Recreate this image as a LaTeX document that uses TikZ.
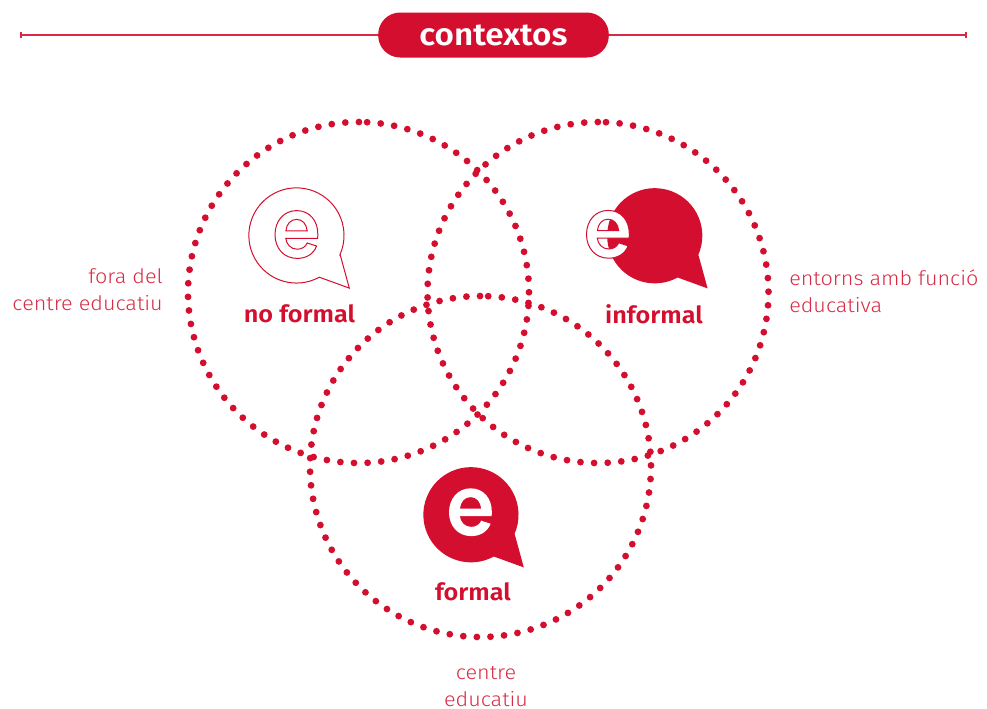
\documentclass[tikz,border=0pt]{standalone}
\usepackage{fontspec}
\setmainfont{Fira Sans}
\newfontfamily\lightf[FakeStretch=1.08]{Fira Sans Light}
\newfontfamily\boldf[FakeStretch=1.07]{Fira Sans SemiBold}
\definecolor{ered}{HTML}{D40E2E}
\definecolor{elight}{HTML}{D92A45}
\tikzset{
  px/.style={x=0.75pt,y=-0.75pt},
  rule/.style={draw=elight,line width=1pt},
  pill/.style={fill=ered,draw=none,rounded corners=16.5pt},
  title/.style={text=white,font=\boldf\fontsize{23.3}{23.3}\selectfont,inner sep=0pt},
  ctx/.style={text=ered,font=\boldf\fontsize{17.7}{17.7}\selectfont,inner sep=0pt},
  side/.style={text=elight,font=\lightf\fontsize{15}{20.2}\selectfont,inner sep=0pt},
  outline/.style={draw=ered,line width=0.75pt,fill=white},
  solid/.style={draw=none,fill=ered}
}
\newcommand{\ebubble}[3]{%
  \path[#1,shift={(#2,#3)}]
    (43.8,19.7) -- (52.8,52.6) -- (22.8,41.7)
    arc[start angle=61.3,end angle=384.3,radius=47.6] -- cycle;}
\newcommand{\eglyph}[3]{%
  \path[#1,even odd rule,shift={(#2,#3)}]
    (42.7,27.8) -- (10.8,27.8)
    .. controls (11.4,33.5) and (15.6,38.6) .. (22.2,38.6)
    .. controls (27,38.6) and (30.6,36.2) .. (32.2,32.4)
    -- (41.6,35.4)
    .. controls (38.6,43.4) and (31.2,47.8) .. (22.2,47.8)
    .. controls (8.6,47.8) and (0,37.4) .. (0,24)
    .. controls (0,10.4) and (8.8,0) .. (21.6,0)
    .. controls (34.6,0) and (42.8,10) .. (42.8,23.4)
    -- cycle
    (32.2,20.2) .. controls (31.4,13.4) and (27.6,8.8) .. (21.6,8.8)
    .. controls (15.6,8.8) and (11.6,13.4) .. (10.9,20.2) -- cycle;}
\begin{document}
\begin{tikzpicture}[px]
\useasboundingbox (0,0) rectangle (987,708);
\coordinate (ruleL) at (21,35);
\coordinate (ruleR) at (966,35);
\node[pill,minimum width=173pt,minimum height=33.75pt,inner sep=0pt] (pillbox) at (493.5,35) {};
\node[title] (titletext) at (493.5,35.5) {contextos};
\draw[rule] (ruleL) -- (pillbox.west);
\draw[rule] (pillbox.east) -- (ruleR);
\draw[rule] (21,32) -- (21,38);
\draw[rule] (966,32) -- (966,38);
\foreach \cx/\cy/\a in {358.5/292.5/87.1, 598/292.5/87.3, 480.5/466.5/87.4}{
  \foreach \i in {0,...,78}{
    \fill[ered] ({\cx+170.5*cos(\a-\i*4.58)},{\cy-170.5*sin(\a-\i*4.58)}) circle[radius=3.4];
  }
}
\ebubble{outline}{296.5}{235.5}
\eglyph{draw=ered,line width=0.75pt,fill=white}{275}{210.6}
\ebubble{solid}{654.8}{235.8}
\eglyph{draw=ered,line width=0.75pt,fill=white}{586.5}{210.4}
\ebubble{solid}{471}{514.8}
\eglyph{fill=white}{449}{488.3}
\node[ctx] (nf) at (299.5,314) {no formal};
\node[ctx] (inf) at (654,314) {informal};
\node[ctx] (fm) at (473,591.5) {formal};
\node[side,align=right,anchor=east] (s1) at (163,289.5) {fora del\\centre educatiu};
\node[side,align=left,anchor=west] (s2) at (789,291.5) {entorns amb funció\\educativa};
\node[side,align=center] (s3) at (486,686.5) {centre\\educatiu};
\end{tikzpicture}
\end{document}
